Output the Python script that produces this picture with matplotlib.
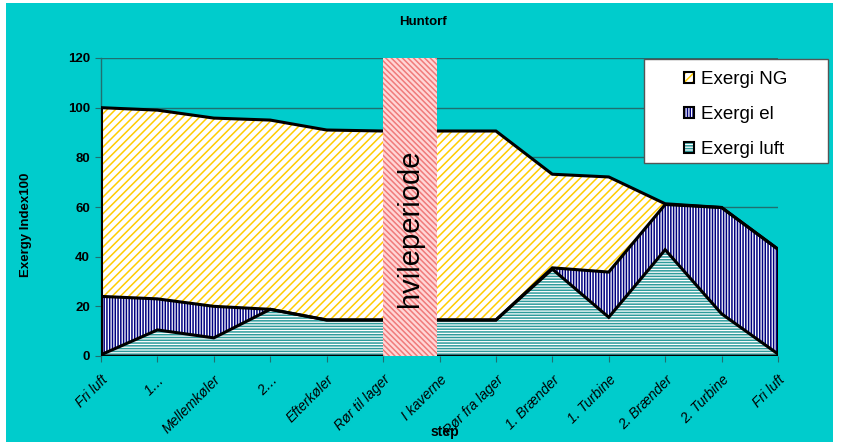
"""
Huntorf: exergy per step (stacked areas), with the rest period marked
"""

import matplotlib.pyplot as plt
from matplotlib.patches import Patch, Rectangle
import numpy as np

# ----- Data -----
steps = ['Fri luft', '1…', 'Mellemkøler', '2…', 'Efterkøler', 'Rør til lager',
         'I kaverne', 'Rør fra lager', '1. Brænder', '1. Turbine', '2. Brænder',
         '2. Turbine', 'Fri luft']
exergi_luft = [0.5, 10.5, 7.3, 18.8, 14.5, 14.5, 14.5, 14.5, 35.0, 15.6, 42.8, 17.0, 0.8]
exergi_el   = [23.5, 12.5, 12.7, 0.0, 0.0, 0.0, 0.0, 0.0, 0.5, 18.2, 18.2, 42.8, 42.2]
exergi_ng   = [76.0, 76.0, 75.8, 76.2, 76.5, 76.1, 76.1, 76.1, 37.7, 38.3, 0.3, 0.0, 0.0]
series_names = ['Exergi NG', 'Exergi el', 'Exergi luft']
rest_start, rest_end = 5, 5.95
rest_label = 'hvileperiode'

plt.rcParams['font.family'] = ['Liberation Sans', 'DejaVu Sans']
plt.rcParams['hatch.linewidth'] = 1.1

CYAN = '#00CCCC'
GRID = '#1F6F6F'
NG_COL, EL_COL, LUFT_COL = '#FFCC00', '#000080', '#2E9C9C'

W, H = 841, 442
fig = plt.figure(figsize=(W / 100, H / 100), dpi=100)
fig.patch.set_facecolor('white')
fig.patches.append(Rectangle((6 / W, 0), 827 / W, 439 / H, transform=fig.transFigure,
                             facecolor=CYAN, edgecolor='none', zorder=-1))

ax = fig.add_axes([101 / W, 86 / H, 677 / W, 298 / H])
ax.set_facecolor(CYAN)

x = np.arange(len(steps))
luft = np.array(exergi_luft)
el_top = luft + np.array(exergi_el)
ng_top = el_top + np.array(exergi_ng)

ax.fill_between(x, 0, luft, facecolor='white', edgecolor=LUFT_COL, hatch='------',
                linewidth=0, zorder=2)
ax.fill_between(x, luft, el_top, facecolor='white', edgecolor=EL_COL, hatch='||||||',
                linewidth=0, zorder=2)
ax.fill_between(x, el_top, ng_top, facecolor='white', edgecolor=NG_COL, hatch='////',
                linewidth=0, zorder=2)

for top in (luft, el_top, ng_top):
    ax.plot(x, top, color='black', linewidth=2.2, zorder=3, solid_joinstyle='miter')
ax.plot([x[-1], x[-1]], [0, ng_top[-1]], color='black', linewidth=2.2, zorder=3)
ax.plot([x[0], x[0]], [0, ng_top[0]], color='black', linewidth=2.2, zorder=3)
ax.axhline(0, color='black', linewidth=2.5, zorder=3)

# rest period band
ax.axvspan(rest_start, rest_end, facecolor='#FFD6D6', edgecolor='#F07A7A',
           hatch='\\\\\\\\\\\\', linewidth=0, zorder=4)
ax.text((rest_start + rest_end) / 2, 51.5, rest_label, rotation=90, fontsize=21,
        ha='center', va='center', zorder=5)

ax.set_xlim(0, len(steps) - 1)
ax.set_ylim(0, 120)
ax.set_yticks(range(0, 121, 20))
ax.set_yticklabels([str(v) for v in range(0, 121, 20)], fontsize=9.5, fontweight='bold')
ax.set_xticks(x)
ax.set_xticklabels(steps, rotation=45, ha='right', va='top', rotation_mode='anchor',
                   fontsize=10, style='italic')
ax.tick_params(axis='x', length=4, pad=8, color=GRID)
ax.tick_params(axis='y', length=4, pad=4, color=GRID)
ax.grid(axis='y', color=GRID, linewidth=1.0, zorder=1)
ax.set_axisbelow(True)
for s in ['top', 'right', 'bottom']:
    ax.spines[s].set_visible(False)
ax.spines['left'].set_color(GRID)
ax.spines['left'].set_linewidth(1.0)

fig.text(423 / W, 1 - 22 / H, 'Huntorf', ha='center', va='center',
         fontsize=9.5, fontweight='bold')
fig.text(26 / W, 1 - 225 / H, 'Exergy Index100', ha='center', va='center',
         rotation=90, fontsize=9.5, fontweight='bold')
fig.text(445 / W, 1 - 432 / H, 'step', ha='center', va='center',
         fontsize=10, fontweight='bold')

# legend: white box + frameless legend inside
fig.patches.append(Rectangle((644 / W, 1 - 163 / H), 184 / W, 104 / H,
                             transform=fig.transFigure, facecolor='white',
                             edgecolor='#555555', linewidth=1.0, zorder=6))
hatch_spec = [(NG_COL, '////'), (EL_COL, '||||||'), (LUFT_COL, '------')]
handles = [(Patch(facecolor='white', edgecolor=c, hatch=h, linewidth=0),
            Patch(facecolor='none', edgecolor='black', linewidth=1.5))
           for c, h in hatch_spec]
leg = fig.legend(handles, series_names, loc='upper left',
                 bbox_to_anchor=(675 / W, 1 - 62 / H), frameon=False,
                 fontsize=13.5, handlelength=0.5, handleheight=0.5,
                 handletextpad=0.4, labelspacing=0.95, borderpad=0)
leg.set_zorder(7)

plt.savefig('out.png', dpi=100)
